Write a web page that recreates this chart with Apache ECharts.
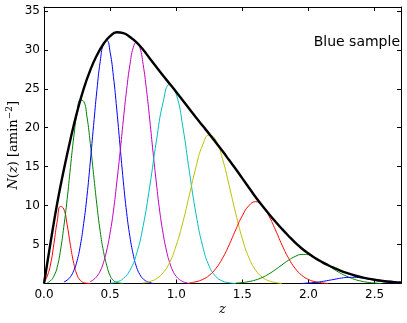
<!DOCTYPE html>
<html>
<head>
<meta charset="utf-8">
<script src="https://cdn.jsdelivr.net/npm/echarts@6/dist/echarts.min.js"></script>
<style>
html, body { margin: 0; padding: 0; background: #fff; }
#nz { width: 407px; height: 323px; }
</style>
</head>
<body>
<div id="nz"></div>
<script>
// values: [z, N(z)]
var xTicks = [0.0, 0.5, 1.0, 1.5, 2.0, 2.5]
var yTicks = [5, 10, 15, 20, 25, 30, 35]

var totalN = [[0,0],[0.05,5.3],[0.1,10.3],[0.15,14.6],[0.2,18.5],[0.25,22.0],[0.3,25.0],[0.35,27.4],[0.4,29.3],[0.45,30.75],[0.5,31.75],[0.55,32.25],[0.6,32.15],[0.65,31.65],[0.7,30.95],[0.75,30.0],[0.8,28.9],[0.85,27.8],[0.9,26.7],[0.95,25.65],[1.0,24.6],[1.05,23.5],[1.1,22.4],[1.15,21.3],[1.2,20.25],[1.25,19.2],[1.3,18.1],[1.35,17.0],[1.4,15.85],[1.45,14.7],[1.5,13.5],[1.55,12.3],[1.6,11.1],[1.65,10.0],[1.7,8.95],[1.75,7.95],[1.8,7.0],[1.85,6.1],[1.9,5.25],[1.95,4.5],[2.0,3.85],[2.05,3.28],[2.1,2.78],[2.15,2.34],[2.2,1.95],[2.25,1.6],[2.3,1.3],[2.35,1.03],[2.4,0.81],[2.45,0.63],[2.5,0.48],[2.55,0.36],[2.6,0.26],[2.65,0.18],[2.7,0.12]]

var bin1 = [[0,0.1],[0.025,0.97],[0.05,2.5],[0.075,5.1],[0.1,8.0],[0.125,9.9],[0.15,9.55],[0.175,7.55],[0.2,4.9],[0.225,2.6],[0.25,1.1],[0.275,0.4],[0.3,0.12],[0.325,0.03],[0.35,0]]
var bin2 = [[0.025,0.1],[0.05,0.35],[0.075,0.95],[0.1,2.1],[0.125,4.3],[0.15,7.3],[0.175,10.8],[0.2,14.9],[0.225,18.8],[0.25,21.9],[0.275,23.55],[0.3,23.4],[0.325,21.4],[0.35,18.0],[0.375,14.0],[0.4,10.1],[0.425,6.7],[0.45,4.1],[0.475,2.3],[0.5,1.0],[0.525,0.4],[0.55,0.15],[0.575,0.05],[0.6,0]]
var bin3 = [[0.15,0.2],[0.175,0.43],[0.2,0.87],[0.225,1.65],[0.25,2.9],[0.275,4.9],[0.3,7.7],[0.325,11.2],[0.35,15.6],[0.375,20.3],[0.4,24.8],[0.425,28.5],[0.45,30.8],[0.475,31.2],[0.5,29.7],[0.525,26.6],[0.55,22.4],[0.575,17.7],[0.6,13.1],[0.625,9.1],[0.65,6.0],[0.675,3.7],[0.7,2.1],[0.725,1.15],[0.75,0.59],[0.775,0.28],[0.8,0.12],[0.825,0]]
var bin4 = [[0.35,0.25],[0.375,0.5],[0.4,0.92],[0.425,1.6],[0.45,2.7],[0.475,4.3],[0.5,6.5],[0.525,9.3],[0.55,12.9],[0.575,16.8],[0.6,21.0],[0.625,24.9],[0.65,28.1],[0.675,30.3],[0.7,31.0],[0.725,30.3],[0.75,28.1],[0.775,24.9],[0.8,21.0],[0.825,16.8],[0.85,12.9],[0.875,9.3],[0.9,6.5],[0.925,4.3],[0.95,2.7],[0.975,1.6],[1.0,0.92],[1.025,0.5],[1.05,0.25],[1.075,0.1],[1.1,0]]
var bin5 = [[0.5,0.05],[0.55,0.2],[0.6,0.65],[0.65,1.7],[0.7,3.8],[0.75,7.4],[0.8,12.5],[0.85,18.3],[0.9,23.2],[0.95,25.55],[1.0,24.3],[1.05,20.1],[1.1,14.3],[1.15,8.9],[1.2,4.8],[1.25,2.2],[1.3,0.9],[1.35,0.31],[1.4,0.1],[1.45,0]]
var bin6 = [[0.75,0.08],[0.8,0.25],[0.85,0.62],[0.9,1.37],[0.95,2.7],[1.0,4.9],[1.05,7.85],[1.1,11.4],[1.15,15.0],[1.2,17.8],[1.25,19.07],[1.3,18.4],[1.35,16.0],[1.4,12.6],[1.45,9.0],[1.5,5.75],[1.55,3.3],[1.6,1.73],[1.65,0.82],[1.7,0.35],[1.75,0.13],[1.8,0]]
var bin7 = [[1.1,0.09],[1.15,0.23],[1.2,0.52],[1.25,1.05],[1.3,1.93],[1.35,3.24],[1.4,4.95],[1.45,6.9],[1.5,8.7],[1.55,10.0],[1.6,10.5],[1.65,10.0],[1.7,8.7],[1.75,6.9],[1.8,4.95],[1.85,3.24],[1.9,1.93],[1.95,1.05],[2.0,0.52],[2.05,0.23],[2.1,0.09],[2.15,0]]
var bin8 = [[1.45,0.06],[1.5,0.12],[1.55,0.25],[1.6,0.45],[1.65,0.77],[1.7,1.22],[1.75,1.78],[1.8,2.4],[1.85,3.0],[1.9,3.48],[1.95,3.73],[2.0,3.7],[2.05,3.25],[2.1,2.8],[2.15,2.3],[2.2,1.75],[2.25,1.25],[2.3,0.85],[2.35,0.52],[2.4,0.3],[2.45,0.15],[2.5,0.06],[2.55,0]]
var bin9 = [[1.95,0],[2.0,0.07],[2.05,0.14],[2.1,0.25],[2.15,0.39],[2.2,0.55],[2.25,0.7],[2.3,0.78],[2.35,0.79],[2.4,0.72],[2.45,0.58],[2.5,0.42],[2.55,0.27],[2.6,0.16],[2.65,0.08],[2.7,0.05]]

var binColors = ['#ff0000', '#008000', '#0000ff', '#bf00bf', '#00bfbf', '#bfbf00', '#ff0000', '#008000', '#0000ff']
var bins = [bin1, bin2, bin3, bin4, bin5, bin6, bin7, bin8, bin9]

var chart = echarts.init(document.getElementById('nz'))

var series = []
for(var i = 0; i < bins.length; i ++) {
	series.push({
		type: 'line',
		data: bins[i],
		smooth: true,
		showSymbol: false,
		lineStyle: { color: binColors[i], width: 1 },
		silent: true
	})
}
series.push({
	type: 'line',
	data: totalN,
	smooth: true,
	showSymbol: false,
	lineStyle: { color: '#000', width: 2.4 },
	silent: true
})

var tickStyle = { show: true, inside: true, length: 4, lineStyle: { color: '#000' } }
var frameLine = { show: true, onZero: false, lineStyle: { color: '#000', width: 1 } }

var option = {
	animation: false,
	grid: { left: 44, right: 6, top: 7, bottom: 39.5, containLabel: false, outerBoundsMode: 'none' },
	xAxis: [{
		type: 'value', min: 0, max: 2.7, interval: 0.5,
		axisLine: frameLine, axisTick: tickStyle, splitLine: { show: false },
		axisLabel: {
			showMaxLabel: false, margin: 5, color: '#000', fontSize: 12, fontFamily: 'DejaVu Sans',
			formatter: function(v) { return xTicks.indexOf(v) >= 0 ? v.toFixed(1) : '' }
		},
		name: 'z', nameLocation: 'middle', nameGap: 20, nameMoveOverlap: false,
		nameTextStyle: { fontFamily: 'DejaVu Serif', fontStyle: 'italic', fontSize: 13, color: '#000' }
	}, {
		type: 'value', position: 'top', min: 0, max: 2.7, interval: 0.5,
		axisLine: frameLine, axisTick: tickStyle, axisLabel: { show: false }, splitLine: { show: false }
	}],
	yAxis: [{
		type: 'value', min: 0, max: 35.5, interval: 5,
		axisLine: frameLine, axisTick: tickStyle, splitLine: { show: false },
		axisLabel: {
			showMinLabel: false, showMaxLabel: false, margin: 4, color: '#000', fontSize: 12, fontFamily: 'DejaVu Sans',
			formatter: function(v) { return yTicks.indexOf(v) >= 0 ? String(v) : '' }
		},
		name: '{i|N}{r|(}{i|z}{r|) [amin}{s|−2}{r|]}',
		nameLocation: 'middle', nameGap: 22, nameRotate: 90, nameMoveOverlap: false,
		nameTextStyle: {
			color: '#000',
			rich: {
				i: { fontFamily: 'DejaVu Serif', fontStyle: 'italic', fontSize: 13, color: '#000' },
				r: { fontFamily: 'DejaVu Serif', fontSize: 13, color: '#000' },
				s: { fontFamily: 'DejaVu Serif', fontSize: 9, color: '#000', verticalAlign: 'top', padding: [0, 0, 8, 0] }
			}
		}
	}, {
		type: 'value', position: 'right', min: 0, max: 35.5, interval: 5,
		axisLine: frameLine, axisTick: tickStyle, axisLabel: { show: false }, splitLine: { show: false }
	}],
	graphic: [{
		type: 'text', right: 7, top: 35,
		style: { text: 'Blue sample', fontFamily: 'DejaVu Sans', fontSize: 14, fill: '#000' }
	}],
	series: series
}

chart.setOption(option)
</script>
</body>
</html>
